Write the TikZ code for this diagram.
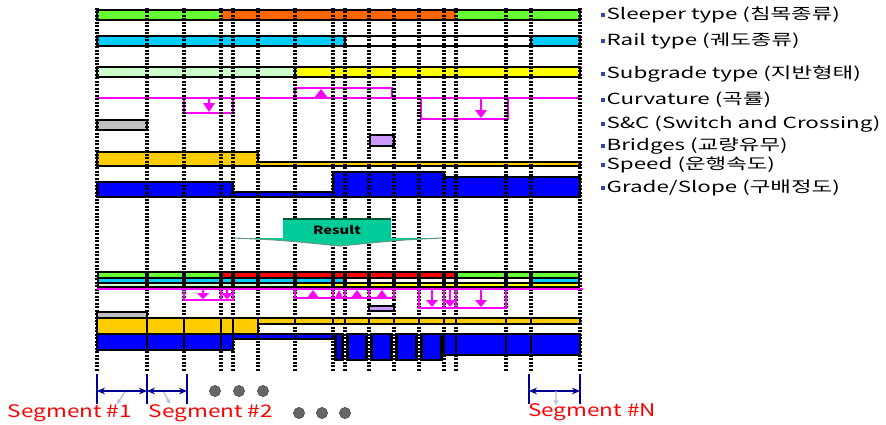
\documentclass[tikz,border=0pt]{standalone}
\usepackage{fontspec}
\usepackage{xcolor}
\usepackage{tikz}
\usetikzlibrary{arrows.meta,positioning,calc}

\newfontfamily\lgfont{Noto Sans CJK KR}[FakeStretch=1.3]
\newfontfamily\lgwide{Noto Sans CJK KR}[FakeStretch=1.46]

\definecolor{sleepgreen}{HTML}{66FF33}
\definecolor{sleeporange}{HTML}{FF6600}
\definecolor{railcyan}{HTML}{00CCFF}
\definecolor{subgreen}{HTML}{CCFFCC}
\definecolor{subyellow}{HTML}{FFFF00}
\definecolor{curvmag}{HTML}{FF00FF}
\definecolor{scgray}{HTML}{C0C0C0}
\definecolor{bridgepurple}{HTML}{CC99FF}
\definecolor{speedgold}{HTML}{FFCC00}
\definecolor{gradeblue}{HTML}{0000FF}
\definecolor{resultgreen}{HTML}{00CC99}
\definecolor{resultdark}{HTML}{005533}
\definecolor{resultred}{HTML}{FF0000}
\definecolor{segnavy}{HTML}{000099}
\definecolor{seglight}{HTML}{B4C0DC}
\definecolor{segred}{HTML}{FF0000}
\definecolor{dotgray}{HTML}{666666}
\definecolor{bulletblue}{HTML}{3344AA}

\newcommand{\bul}{\textcolor{bulletblue}{\rule[0.3ex]{3pt}{3pt}}\hspace{1pt}}
% curvature arrows: x, stem top, head base, tip
\newcommand{\curvdown}[4]{%
  \draw[curv] (#1,#2) -- (#1,#3);
  \fill[curvmag] (#1-6,#3) -- (#1+6,#3) -- (#1,#4) -- cycle;}
% x, base, tip, half width
\newcommand{\curvup}[4]{%
  \fill[curvmag] (#1-#4,#2) -- (#1+#4,#2) -- (#1,#3) -- cycle;}

\begin{document}
\begin{tikzpicture}[x=0.75pt, y=-0.75pt,
    bar/.style={draw=black, line width=2pt},
    segline/.style={draw=black, line width=2.3pt, dash pattern=on 1.5pt off 1.1pt},
    curv/.style={draw=curvmag, line width=1.6pt},
    legend/.style={anchor=west, font=\lgwide\fontsize{11.5}{13}\selectfont, inner sep=0pt},
    seglabel/.style={font=\lgfont\fontsize{13}{15}\selectfont, text=segred, inner sep=0pt},
    segmark/.style={draw=segnavy, line width=0.8pt},
    segarrow/.style={draw=segnavy, line width=1pt, {Stealth[length=6pt,width=5pt]}-{Stealth[length=6pt,width=5pt]}},
    hint/.style={draw=seglight, line width=1pt, -{Stealth[length=4pt,width=4pt]}},
    dot/.style={fill=dotgray, draw=dotgray!70!black, line width=0.4pt},
  ]
  \useasboundingbox (0,0) rectangle (886,425);
  % Input: sleeper type
  \fill[sleepgreen] (97,10) rectangle (221,20);
  \fill[sleeporange] (221,10) rectangle (456,20);
  \fill[sleepgreen] (456,10) rectangle (580,20);
  \draw[bar] (97,10) rectangle (580,20);
  % Input: rail type
  \fill[railcyan] (97,36) rectangle (345,46);
  \fill[railcyan] (531,36) rectangle (580,46);
  \draw[bar] (97,36) rectangle (580,46) (345,36) -- (345,46) (531,36) -- (531,46);
  % Input: subgrade type
  \fill[subgreen] (97,67) rectangle (295,77);
  \fill[subyellow] (295,67) rectangle (580,77);
  \draw[bar] (97,67) rectangle (580,77) (295,67) -- (295,77);
  % Input: curvature
  \draw[curv] (97,98) -- (580,98);
  \draw[curv] (184,98) rectangle (233,113);
  \draw[curv] (295,88) rectangle (392,98);
  \draw[curv] (421,98) rectangle (508,119);
  \curvdown{209}{98}{103}{112}
  \curvup{321}{98}{89}{7}
  \curvdown{481}{98}{110}{118}
  % Input: S&C, bridges
  \filldraw[bar, fill=scgray] (97,120) rectangle (147,130);
  \filldraw[bar, fill=bridgepurple] (370,135) rectangle (394,146);
  % Input: speed
  \filldraw[bar, fill=speedgold] (97,152) -- (258,152) -- (258,162) -- (580,162)
    -- (580,166) -- (97,166) -- cycle;
  % Input: grade/slope
  \filldraw[bar, fill=gradeblue] (97,182) -- (233,182) -- (233,192) -- (333,192)
    -- (333,172) -- (444,172) -- (444,177) -- (580,177) -- (580,197) -- (97,197) -- cycle;
  % segment boundaries
  \foreach \x in {97,147,184,221,233,258,295,333,345,369,394,419,444,456,506,531,580}
    \draw[segline] (\x,8) -- (\x,372);
  % Result arrow
  \fill[resultgreen] (283,219) -- (391,219) -- (391,238) -- (442,238)
    .. controls (400,240) .. (340,246) .. controls (280,240) .. (233,238) -- (283,238) -- cycle;
  \draw[resultdark!60, line width=0.8pt] (442,238) .. controls (400,240) .. (340,246)
    .. controls (280,240) .. (233,238);
  \draw[resultdark, line width=2.2pt] (283,219) -- (391,219);
  \node[font=\lgfont\bfseries\fontsize{8.5}{10}\selectfont] (result) at (337,230) {Result};
  % Result: sleeper, rail, subgrade
  \fill[black] (97,270.5) rectangle (580,288);
  \foreach \xa/\xb/\cs/\cr/\cg in {97/147/sleepgreen/railcyan/subgreen,
      147/184/sleepgreen/railcyan/subgreen, 184/221/sleepgreen/railcyan/subgreen,
      221/233/resultred/railcyan/subgreen, 233/258/resultred/railcyan/subgreen,
      258/295/resultred/railcyan/subgreen, 295/333/resultred/railcyan/subyellow,
      333/345/resultred/railcyan/subyellow, 345/369/resultred/white/subyellow,
      369/394/resultred/white/subyellow, 394/419/resultred/white/subyellow,
      419/444/resultred/white/subyellow, 444/456/resultred/white/subyellow,
      456/506/sleepgreen/white/subyellow, 506/531/sleepgreen/white/subyellow,
      531/580/sleepgreen/railcyan/subyellow}{
    \fill[\cs] (\xa+2,273) rectangle (\xb-2,276.5);
    \fill[\cr] (\xa+2,278.5) rectangle (\xb-2,281.5);
    \fill[\cg] (\xa+2,283.5) rectangle (\xb-2,286);
  }
  % Result: curvature
  \draw[curv] (97,289) -- (583,289);
  \draw[curv] (184,289) rectangle (233,300) (221,289) -- (221,300);
  \curvdown{203}{289}{293}{299}
  \curvdown{227}{289}{293}{299}
  \draw[curv] (295,289) rectangle (394,298) (333,289) -- (333,298)
    (345,289) -- (345,298) (369,289) -- (369,298);
  \curvup{313}{298}{290}{6}
  \curvup{339}{298}{290}{4}
  \curvup{357}{298}{290}{6}
  \curvup{382}{298}{290}{6}
  \draw[curv] (419,289) rectangle (506,308) (444,289) -- (444,308) (456,289) -- (456,308);
  \curvdown{432}{289}{300}{307}
  \curvdown{450}{289}{300}{307}
  \curvdown{481}{289}{300}{307}
  % Result: S&C, bridges
  \filldraw[bar, fill=scgray] (97,312) rectangle (147,318);
  \filldraw[bar, fill=bridgepurple] (369,306) rectangle (394,311);
  % Result: speed and grade per segment
  \foreach \xa/\xb/\sb/\gb in {97/147/334/350, 147/184/334/350, 184/221/334/350,
      221/233/334/350, 233/258/334/339, 258/295/324/339, 295/333/324/339,
      444/456/324/355, 456/506/324/355, 506/531/324/355, 531/580/324/355}{
    \filldraw[bar, fill=speedgold] (\xa,318) rectangle (\xb,\sb);
    \filldraw[bar, fill=gradeblue] (\xa,334) rectangle (\xb,\gb);
  }
  \foreach \xa/\xb in {333/345, 345/369, 369/394, 394/419, 419/444}{
    \filldraw[bar, fill=speedgold] (\xa,318) rectangle (\xb,324);
    \filldraw[bar, line width=1.6pt, fill=gradeblue] (\xa+2.5,334) rectangle (\xb-2.5,360);
  }
  % Legend
  \node[legend] (sleeper) at (601,15) {\bul Sleeper type (침목종류)};
  \node[legend] (rail) at (601,41) {\bul Rail type (궤도종류)};
  \node[legend] (subgrade) at (601,74) {\bul Subgrade type (지반형태)};
  \node[legend] (curvature) at (601,100) {\bul Curvature (곡률)};
  \node[legend] (snc) at (601,124) {\bul S\&C (Switch and Crossing)};
  \node[legend] (bridges) at (601,146) {\bul Bridges (교량유무)};
  \node[legend] (speed) at (601,165) {\bul Speed (운행속도)};
  \node[legend] (grade) at (601,188) {\bul Grade/Slope (구배정도)};
  % Segments
  \coordinate (s1l) at (97,391);
  \coordinate (s1r) at (147,391);
  \coordinate (s2r) at (187,391);
  \coordinate (sNl) at (529,391);
  \coordinate (sNr) at (580,391);
  \foreach \x in {97,147,187,529,580}
    \draw[segmark] (\x,374) -- (\x,404);
  \draw[segarrow] (s1l) -- (s1r);
  \draw[segarrow] (s1r) -- (s2r);
  \draw[segarrow] (sNl) -- (sNr);
  \coordinate (h1) at (117,404);
  \coordinate (h2) at (170,404);
  \coordinate (hN) at (556,405);
  \draw[hint] ($(s1l)!0.56!(s1r)+(0,1)$) -- (h1);
  \draw[hint] ($(s1r)!0.42!(s2r)+(0,1)$) -- (h2);
  \draw[hint] ($(sNl)!0.53!(sNr)$) -- (hN);
  \node[seglabel] (seg1) at (70,413) {Segment \#1};
  \node[seglabel] (seg2) at (211,413) {Segment \#2};
  \node[seglabel] (segN) at (592,412) {Segment \#N};
  \foreach \x in {215,239,263}
    \filldraw[dot] (\x,391) circle[radius=4.2pt];
  \foreach \x in {299,322,345}
    \filldraw[dot] (\x,413) circle[radius=4.2pt];
\end{tikzpicture}
\end{document}
